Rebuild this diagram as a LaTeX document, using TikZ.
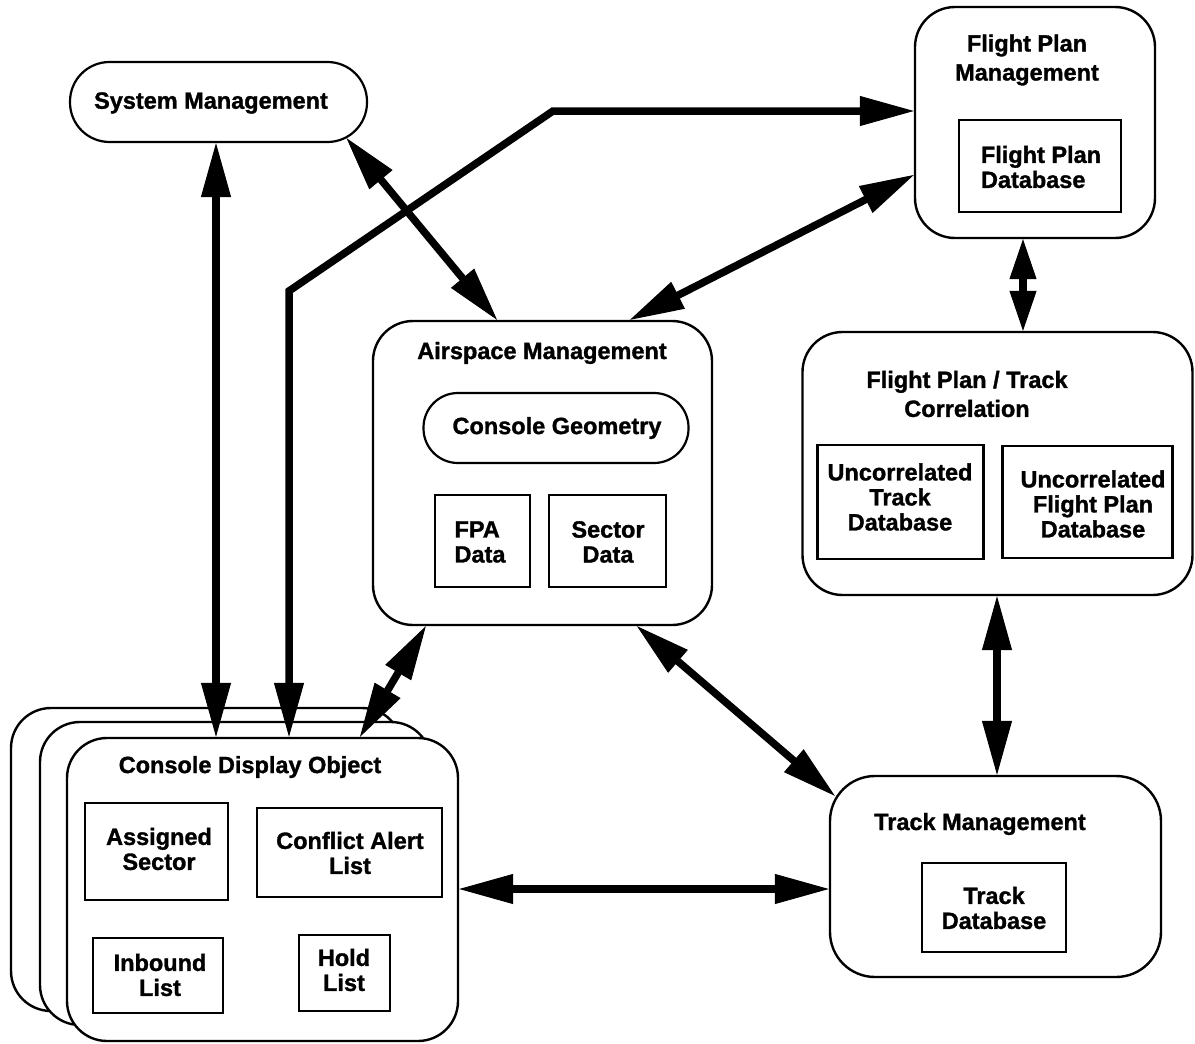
\documentclass[tikz,border=0pt]{standalone}
\usepackage{fontspec}
\setmainfont{Liberation Sans}[BoldFeatures={FakeBold=1.3}]
\usetikzlibrary{arrows.meta,calc}

\begin{document}
\begin{tikzpicture}[x=1pt,y=-1pt,
  lbl/.style={font=\fontsize{23.5}{25}\selectfont\bfseries, inner sep=0pt, align=center},
  bigbox/.style={draw, line width=2.4pt, rounded corners=40pt, fill=white, inner sep=0pt},
  databox/.style={draw, line width=2.6pt, fill=white, inner sep=0pt},
  link/.style={line width=7.5pt,
    {Triangle[length=54pt,width=30pt,line width=1pt]}-{Triangle[length=54pt,width=30pt,line width=1pt]}},
  shortlink/.style={line width=7.5pt,
    {Triangle[length=40pt,width=27pt,line width=1pt]}-{Triangle[length=40pt,width=27pt,line width=1pt]}},
]
% page frame
\fill[white] (0,0) rectangle (1195,1044);
\useasboundingbox (0,0) rectangle (1195,1044);

% ---------------- System Management
\node[draw, line width=2.2pt, rounded corners=39.5pt, fill=white, inner sep=0pt,
      minimum width=297, minimum height=80] (sm) at (218.5,102) {};
\node[lbl] (smtxt) at (211,103) {System Management};

% ---------------- Flight Plan Management
\node[bigbox, minimum width=240, minimum height=231] (fpm) at (1035,122.5) {};
\node[lbl, font=\fontsize{23.5}{29}\selectfont\bfseries] (fpmtxt) at (1027,60) {Flight Plan\\Management};
\node[databox, minimum width=162, minimum height=92] (fpmdb) at (1040,166) {};
\node[lbl, align=left] (fpmdbtxt) at (1041,167) {Flight Plan\\Database};

% ---------------- Flight Plan / Track Correlation
\node[bigbox, minimum width=390, minimum height=263] (fptc) at (997.5,463.5) {};
\node[lbl, font=\fontsize{23.5}{29}\selectfont\bfseries] (fptctxt) at (967,394) {Flight Plan / Track\\Correlation};
\node[databox, minimum width=166, minimum height=114] (utd) at (900.5,502) {};
\node[lbl] (utdtxt) at (900,497) {Uncorrelated\\Track\\Database};
\node[databox, minimum width=170, minimum height=112] (ufd) at (1087.5,502) {};
\node[lbl] (ufdtxt) at (1093,504) {Uncorrelated\\Flight Plan\\Database};

% ---------------- Airspace Management
\node[bigbox, minimum width=339, minimum height=304] (asm) at (542.5,473) {};
\node[lbl] (asmtxt) at (542,353) {Airspace Management};
\node[draw, line width=2.2pt, rounded corners=34.5pt, fill=white, inner sep=0pt,
      minimum width=265, minimum height=70] (cg) at (556,428) {};
\node[lbl] (cgtxt) at (557,428) {Console Geometry};
\node[databox, minimum width=95, minimum height=92] (fpa) at (482.5,541) {};
\node[lbl, align=left] (fpatxt) at (480,542) {FPA\\Data};
\node[databox, minimum width=117, minimum height=92] (sec) at (607.5,541) {};
\node[lbl] (sectxt) at (608,542) {Sector\\Data};

% ---------------- Track Management
\node[bigbox, rounded corners=45pt, minimum width=331, minimum height=201] (tm) at (995.5,876.5) {};
\node[lbl] (tmtxt) at (980,824) {Track Management};
\node[databox, minimum width=144, minimum height=89] (tdb) at (994,907.5) {};
\node[lbl] (tdbtxt) at (994,908) {Track\\Database};

% ---------------- Console Display Object (stacked instances)
\node[bigbox, minimum width=391, minimum height=303] (cdoc) at (206.5,859.5) {};
\node[bigbox, minimum width=391, minimum height=303] (cdob) at (235.5,873.5) {};
\node[bigbox, minimum width=391, minimum height=303] (cdo) at (262.5,889.5) {};
\node[lbl] (cdotxt) at (250,767) {Console Display Object};
\node[databox, minimum width=143, minimum height=97] (asec) at (156.5,851.5) {};
\node[lbl] (asectxt) at (159,849) {Assigned\\Sector};
\node[databox, minimum width=185, minimum height=89] (cal) at (349.5,852.5) {};
\node[lbl] (caltxt) at (350,853) {Conflict Alert\\List};
\node[databox, minimum width=130, minimum height=75] (inb) at (158,975.5) {};
\node[lbl] (inbtxt) at (160,975) {Inbound\\List};
\node[databox, minimum width=91, minimum height=76] (hold) at (344.5,973) {};
\node[lbl] (holdtxt) at (344,970) {Hold\\List};

% ---------------- connectors
\coordinate (xsm) at (216,0);
\coordinate (xpl) at (289,0);
\coordinate (bendlow) at (289,291);
\coordinate (bendhigh) at (553,111);
\coordinate (xfp) at (1023,0);
\coordinate (xtr) at (997,0);
\coordinate (ycd) at (0,889);

\draw[link] (sm.south -| xsm) -- (cdo.north -| xsm);
\draw[link] ($(sm.south)+(128,-5)$) -- ($(asm.north)+(-45.5,0)$);
\draw[link] (cdo.north -| xpl) -- (bendlow) -- (bendhigh) -- (fpm.west |- bendhigh);
\draw[link] ($(fpm.west)+(0,52.5)$) -- ($(asm.north)+(87.5,0)$);
\draw[shortlink] (fpm.south -| xfp) -- (fptc.north -| xfp);
\draw[link] (fptc.south -| xtr) -- (tm.north -| xtr);
\draw[link] ($(asm.south)+(94.5,0)$) -- ($(tm.north west)+(6,21)$);
\draw[link] ($(asm.south west)+(54,0)$) -- ($(cdo.north)+(97.5,0)$);
\draw[link] (cdo.east |- ycd) -- (tm.west |- ycd);
\end{tikzpicture}
\end{document}
